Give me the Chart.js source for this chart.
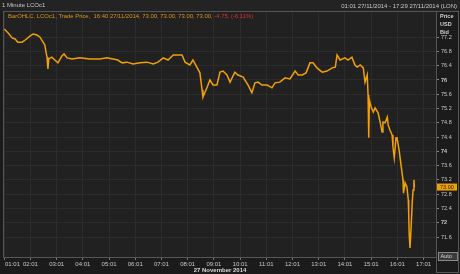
<!DOCTYPE html>
<html lang="en">
<head>
    <meta charset="UTF-8">
    <title>1 Minute LCOc1</title>
    <style>
        html, body { margin: 0; padding: 0; background: #1b1b1b; }
        #wrap { width: 460px; height: 274px; position: relative; }
        #chart { display: block; }
    </style>
</head>
<body>
    <div id="wrap"><canvas id="chart" width="460" height="274"></canvas></div>
    <script src="https://cdn.jsdelivr.net/npm/chart.js"></script>
    <script>
        // Brent 1 minute trade price, 27 Nov 2014
        const times = [
            '01:01','01:10','01:19','01:26','01:32','01:42','01:49','02:00','02:07','02:16',
            '02:23','02:30','02:34','02:37','02:39','02:41','02:43','02:50','02:57','03:04',
            '03:13','03:18','03:25','03:36','03:54','04:17','04:40','04:56','05:10','05:21',
            '05:31','05:42','05:56','06:12','06:28','06:42','06:53','07:05','07:16','07:28',
            '07:39','07:48','07:55','08:06','08:13','08:22','08:29','08:34','08:36','08:45',
            '08:52','08:59','09:08','09:15','09:22','09:31','09:38','09:49','09:56','10:08',
            '10:19','10:28','10:35','10:42','10:51','11:03','11:14','11:21','11:32','11:44',
            '11:55','12:07','12:14','12:23','12:32','12:41','12:48','12:57','13:09','13:20',
            '13:32','13:39','13:43','13:50','14:01','14:08','14:17','14:24','14:29','14:36',
            '14:43','14:47','14:52','14:54','14:55','14:56','14:57','15:01','15:06','15:10',
            '15:17','15:22','15:26','15:28','15:33','15:38','15:40','15:44','15:49','15:51',
            '15:54','15:58','16:00','16:05','16:10','16:14','16:15','16:19','16:23','16:26',
            '16:27','16:28','16:30','16:33','16:35','16:37','16:39','16:40'
        ];
        const prices = [
            77.43, 77.32, 77.18, 77.15, 77.06, 77.06, 77.12, 77.23, 77.29, 77.26,
            77.20, 77.06, 76.98, 76.76, 76.64, 76.31, 76.59, 76.64, 76.56, 76.48,
            76.67, 76.73, 76.62, 76.59, 76.62, 76.59, 76.59, 76.62, 76.59, 76.56,
            76.48, 76.50, 76.45, 76.48, 76.50, 76.45, 76.50, 76.62, 76.56, 76.70,
            76.70, 76.70, 76.50, 76.42, 76.56, 76.36, 76.20, 75.72, 75.52, 75.78,
            76.00, 75.86, 75.86, 76.22, 76.25, 76.14, 75.94, 76.22, 76.14, 76.08,
            75.86, 75.64, 75.92, 75.94, 75.86, 75.86, 75.78, 75.92, 75.94, 76.06,
            76.03, 76.25, 76.14, 76.14, 76.20, 76.48, 76.48, 76.34, 76.22, 76.25,
            76.34, 76.36, 76.70, 76.56, 76.62, 76.56, 76.64, 76.42, 76.36, 76.42,
            76.34, 75.94, 76.14, 75.58, 75.24, 74.38, 75.44, 75.24, 75.10, 75.22,
            75.08, 74.80, 74.54, 74.82, 74.80, 74.96, 74.74, 74.60, 74.46, 74.12,
            73.82, 74.38, 74.40, 74.04, 73.56, 73.20, 72.83, 73.11, 73.00, 72.64,
            72.27, 71.71, 71.29, 71.99, 72.55, 72.92, 73.20, 73.00
        ];
        const xTickLabels = ['01:01','02:01','03:01','04:01','05:01','06:01','07:01','08:01','09:01',
                             '10:01','11:01','12:01','13:01','14:01','15:01','16:01','17:01'];
        const yTickValues = [71.6, 72, 72.4, 72.8, 73.2, 73.6, 74, 74.4, 74.8, 75.2, 75.6, 76, 76.4, 76.8, 77.2];
        const lastPrice = 73.00;

        const FONT = '"Liberation Sans", Arial, sans-serif';
        const toMin = t => { const p = t.split(':'); return (+p[0]) * 60 + (+p[1]); };

        // 背景、標題列、右側文字等
        const decor = {
            id: 'decor',
            beforeDraw(chart) {
                const { ctx, chartArea: a } = chart;
                ctx.save();
                ctx.fillStyle = '#1b1b1b';
                ctx.fillRect(0, 0, 460, 274);
                ctx.fillStyle = '#232323';
                ctx.fillRect(0, 0, 460, 11);
                ctx.fillStyle = '#212121';
                ctx.fillRect(a.left, a.top, a.right - a.left, a.bottom - a.top);
                ctx.restore();
            },
            afterDraw(chart) {
                const { ctx, chartArea: a } = chart;
                const y = chart.scales.y;
                ctx.save();
                ctx.strokeStyle = '#555';
                ctx.lineWidth = 1;
                ctx.strokeRect(a.left - 0.5, a.top - 0.5, a.right - a.left + 1, a.bottom - a.top + 1);
                ctx.strokeRect(a.right + 0.5, a.top - 0.5, 460 - a.right - 2, 274 - a.top - 1);

                ctx.textBaseline = 'middle';
                ctx.fillStyle = '#c8c8c8';
                ctx.font = '6px ' + FONT;
                ctx.textAlign = 'left';
                ctx.fillText('1 Minute LCOc1', 2, 5.5);
                ctx.textAlign = 'right';
                ctx.fillText('01:01 27/11/2014 - 17:29 27/11/2014 (LON)', 457, 6);

                ctx.textAlign = 'left';
                ctx.font = 'bold 5.5px ' + FONT;
                ctx.fillStyle = '#d0d0d0';
                ctx.fillText('Price', 440, 16);
                ctx.fillText('USD', 440, 24);
                ctx.fillText('Bid', 440, 32);

                // legend line in the plot
                ctx.font = '5.9px ' + FONT;
                const s1 = 'BarOHLC, LCOc1, Trade Price,  16:40 27/11/2014, 73.00, 73.00, 73.00, 73.00, ';
                ctx.fillStyle = '#d8961c';
                ctx.fillText(s1, 8, 16);
                ctx.fillStyle = '#e0302a';
                ctx.fillText('-4.75, (-6.11%)', 8 + ctx.measureText(s1).width, 16);

                // last price box
                const py = y.getPixelForValue(lastPrice);
                ctx.fillStyle = '#f0a000';
                ctx.fillRect(a.right + 1, py - 3.5, 20, 7);
                ctx.fillStyle = '#1b1b1b';
                ctx.font = '5.5px ' + FONT;
                ctx.fillText(lastPrice.toFixed(2), a.right + 4, py);

                // first x label, kept inside the frame
                ctx.fillStyle = '#c8c8c8';
                ctx.font = '6px ' + FONT;
                ctx.fillText(xTickLabels[0], a.left + 1, 264.5);

                // Auto button
                ctx.fillStyle = '#3a3a3a';
                ctx.fillRect(438, 252, 19, 8);
                ctx.strokeStyle = '#888';
                ctx.strokeRect(438.5, 252.5, 19, 8);
                ctx.fillStyle = '#d8d8d8';
                ctx.font = '5.5px ' + FONT;
                ctx.fillText('Auto', 440.5, 256.5);
                ctx.restore();
            }
        };

        const points = times.map((t, i) => ({ x: toMin(t), y: prices[i] }));

        new Chart(document.getElementById('chart'), {
            type: 'line',
            data: {
                datasets: [{
                    data: points,
                    borderColor: '#f0a00a',
                    borderWidth: 1.5,
                    pointRadius: 0,
                    tension: 0
                }]
            },
            options: {
                responsive: false,
                animation: false,
                layout: { padding: { top: 12, left: 4, right: 0, bottom: 0 } },
                plugins: { legend: { display: false }, tooltip: { enabled: false } },
                scales: {
                    x: {
                        type: 'linear',
                        min: 60.5,
                        max: 1049.5,
                        afterBuildTicks: s => { s.ticks = xTickLabels.map(t => ({ value: toMin(t) })); },
                        afterFit: s => { s.height = 17; },
                        grid: { color: '#2c2c2c', tickColor: '#777', tickLength: 3 },
                        border: { display: false },
                        ticks: {
                            color: '#c8c8c8',
                            font: { family: FONT, size: 6 },
                            padding: 1,
                            maxRotation: 0,
                            autoSkip: false,
                            callback: (v, i) => i === 0 ? '' : xTickLabels[i]
                        },
                        title: {
                            display: true,
                            text: '27 November 2014',
                            color: '#d8d8d8',
                            font: { family: FONT, size: 6, weight: 'bold' },
                            padding: 0
                        }
                    },
                    y: {
                        position: 'right',
                        min: 71.04,
                        max: 77.905,
                        afterBuildTicks: s => { s.ticks = yTickValues.map(v => ({ value: v })); },
                        afterFit: s => { s.width = 24; },
                        grid: { color: '#2c2c2c', tickColor: '#888', tickLength: 3 },
                        border: { display: false },
                        ticks: {
                            color: '#c8c8c8',
                            padding: 2,
                            autoSkip: false,
                            font: c => ({ family: FONT, size: 5.5, weight: (c.tick && Number.isInteger(c.tick.value)) ? 'bold' : 'normal' }),
                            callback: v => String(Math.round(v * 10) / 10)
                        }
                    }
                }
            },
            plugins: [decor]
        });
    </script>
</body>
</html>
